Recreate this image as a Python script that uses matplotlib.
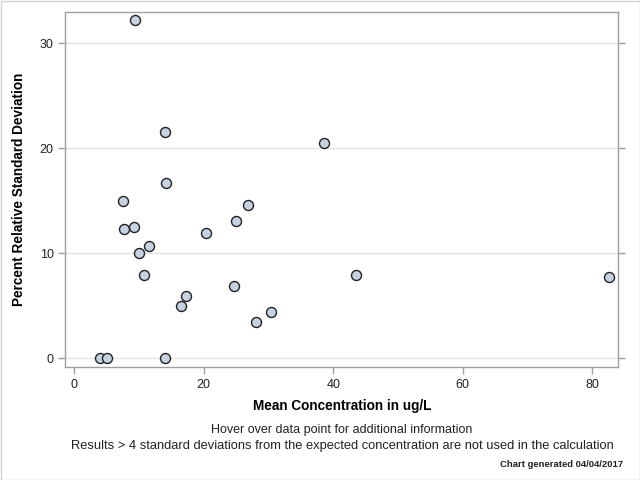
import matplotlib
matplotlib.use("Agg")
import matplotlib.pyplot as plt
from matplotlib.patches import Rectangle

# mean concentration (ug/L) vs percent RSD
mean_conc = [9.3, 14.05, 38.5, 14.2, 7.6, 26.8, 24.9, 7.7, 9.2, 20.4, 11.6,
             10.0, 10.7, 43.5, 82.6, 24.6, 17.3, 16.5, 30.4, 28.0, 4.0, 5.0, 14.05]
pct_rsd = [32.2, 21.5, 20.5, 16.7, 14.95, 14.6, 13.1, 12.3, 12.5, 11.9, 10.7,
           10.0, 7.9, 7.9, 7.7, 6.9, 5.9, 4.95, 4.4, 3.5, 0.0, 0.0, 0.0]

xticks = [0, 20, 40, 60, 80]
yticks = [0, 10, 20, 30]

plt.rcParams['font.family'] = ['Liberation Sans', 'DejaVu Sans']

fig = plt.figure(figsize=(6.4, 4.8), dpi=100)
ax = fig.add_axes([0.1023, 0.2348, 0.8637, 0.7408])

ax.scatter(mean_conc, pct_rsd, s=52, facecolor='#c6d2e2', edgecolor='#222222',
           linewidth=1.0, zorder=3)

ax.set_xlim(-1.36, 84.0)
ax.set_ylim(-0.86, 33.0)
ax.set_xticks(xticks)
ax.set_yticks(yticks)
ax.yaxis.grid(True, color='#e3e3e3', linewidth=1.0)
ax.set_axisbelow(True)

for s in ax.spines.values():
    s.set_color('#a0a0a0')
    s.set_linewidth(1.0)
ax.tick_params(axis='both', colors='#a0a0a0', labelcolor='#222222',
               labelsize=9, length=5, width=1)
ax.tick_params(axis='y', right=True)

ax.set_xlabel('Mean Concentration in ug/L', fontsize=9.8, fontweight='bold',
              labelpad=6)
ax.set_ylabel('Percent Relative Standard Deviation', fontsize=9.8,
              fontweight='bold', labelpad=10)

cx = 341.9 / 640
fig.text(cx, 1 - 430 / 480, 'Hover over data point for additional information',
         ha='center', va='center', fontsize=9, color='#222222')
fig.text(cx, 1 - 445.7 / 480,
         'Results > 4 standard deviations from the expected concentration are not used in the calculation',
         ha='center', va='center', fontsize=9.3, color='#222222')
fig.text(623.5 / 640, 1 - 464.3 / 480, 'Chart generated 04/04/2017',
         ha='right', va='center', fontsize=6.8, fontweight='bold',
         color='#222222')

fig.patches.append(Rectangle((0.5 / 640, 0.5 / 480), 639 / 640, 479 / 480,
                             transform=fig.transFigure, fill=False,
                             edgecolor='#d0d0d0', linewidth=1.0))

fig.savefig('out.png', dpi=100)
